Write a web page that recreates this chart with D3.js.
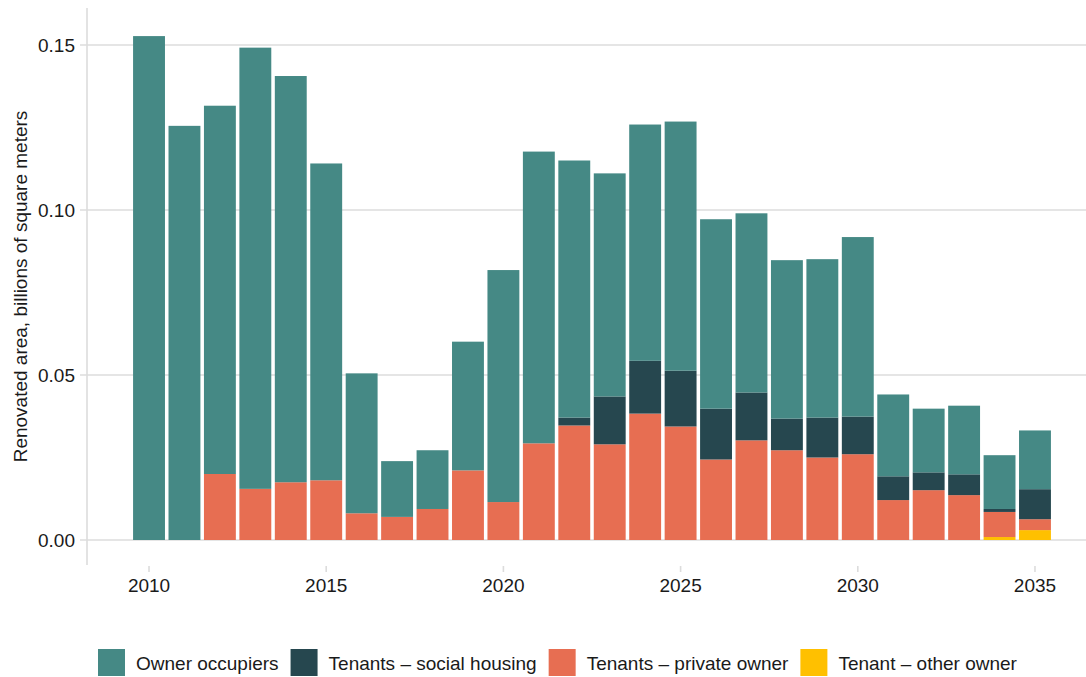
<!DOCTYPE html>
<html><head><meta charset="utf-8">
<script src="https://cdn.jsdelivr.net/npm/d3@7"></script>
<style>
body{margin:0;background:#fff}
svg{display:block}
text{font-family:"Liberation Sans",Arial,Helvetica,sans-serif;fill:#1a1a1a}
</style>
</head><body>
<svg id="chart" width="1086" height="677"></svg>
<script>
const years = [2010,2011,2012,2013,2014,2015,2016,2017,2018,2019,2020,2021,2022,2023,2024,2025,2026,2027,2028,2029,2030,2031,2032,2033,2034,2035];
const ownerOccupiers = [0.1527,0.1255,0.1116,0.1337,0.1231,0.0960,0.0424,0.0169,0.0178,0.0390,0.0703,0.0884,0.0779,0.0676,0.0716,0.0755,0.0574,0.0543,0.0480,0.0480,0.0544,0.0248,0.0193,0.0208,0.0163,0.0178];
const tenantsSocial = [0,0,0,0,0,0,0,0,0,0,0,0,0.0024,0.0145,0.0160,0.0169,0.0154,0.0145,0.0096,0.0121,0.0114,0.0072,0.0054,0.0063,0.0009,0.0091];
const tenantsPrivate = [0,0,0.0200,0.0155,0.0175,0.0181,0.0081,0.0070,0.0094,0.0211,0.0115,0.0293,0.0347,0.0290,0.0383,0.0344,0.0244,0.0302,0.0272,0.0250,0.0260,0.0121,0.0151,0.0136,0.0076,0.0033];
const tenantOther = [0,0,0,0,0,0,0,0,0,0,0,0,0,0,0,0,0,0,0,0,0,0,0,0,0.0009,0.0030];
const yTicks = [0,0.05,0.10,0.15];
const xTicks = [2010,2015,2020,2025,2030,2035];
const seriesKeys = ["owner","social","private","other"];
const seriesNames = ["Owner occupiers","Tenants – social housing","Tenants – private owner","Tenant – other owner"];
const seriesColors = ["#458985","#26474F","#E76E52","#FFC000"];
const yTitle = "Renovated area, billions of square meters";

const table = years.map((yr,i)=>({year:yr, owner:ownerOccupiers[i], social:tenantsSocial[i], private:tenantsPrivate[i], other:tenantOther[i]}));
const stackOrder = ["other","private","social","owner"];
const stacked = d3.stack().keys(stackOrder)(table);
const color = d3.scaleOrdinal().domain(seriesKeys).range(seriesColors);

const svg = d3.select("#chart");
const gridColor = "#DCDCDC";
const panelLeft = 87, panelRight = 1086, panelTop = 8, panelBottom = 565;

const x = d3.scaleBand().domain(years).range([131.3, 1052.7]).paddingInner(0.1).paddingOuter(0.05);
const y = d3.scaleLinear().domain([0,0.15]).range([540,45]);

// gridlines + y ticks
svg.append("g").selectAll("line").data(yTicks).join("line")
  .attr("x1", panelLeft-7).attr("x2", panelRight)
  .attr("y1", d=>y(d)).attr("y2", d=>y(d))
  .attr("stroke", gridColor).attr("stroke-width", 1.6);

// y axis line
svg.append("line").attr("x1",panelLeft).attr("x2",panelLeft).attr("y1",panelTop).attr("y2",panelBottom)
  .attr("stroke",gridColor).attr("stroke-width",1.6);

// y tick labels
svg.append("g").selectAll("text").data(yTicks).join("text")
  .attr("x", 75).attr("y", d=>y(d)).attr("dy","0.36em")
  .attr("text-anchor","end").attr("font-size",19)
  .text(d=>d3.format(".2f")(d));

// x ticks
svg.append("g").selectAll("line").data(xTicks).join("line")
  .attr("x1", d=>x(d)+x.bandwidth()/2).attr("x2", d=>x(d)+x.bandwidth()/2)
  .attr("y1", panelBottom+1).attr("y2", panelBottom+7)
  .attr("stroke", gridColor).attr("stroke-width", 1.6);
svg.append("g").selectAll("text").data(xTicks).join("text")
  .attr("x", d=>x(d)+x.bandwidth()/2).attr("y", 592)
  .attr("text-anchor","middle").attr("font-size",19)
  .text(d=>d);

// bars
svg.append("g").selectAll("g").data(stacked).join("g")
  .attr("fill", s=>color(s.key))
  .selectAll("rect").data(s=>s).join("rect")
  .attr("x", d=>x(d.data.year))
  .attr("width", x.bandwidth())
  .attr("y", d=>y(d[1]))
  .attr("height", d=>Math.max(0, y(d[0])-y(d[1])));

// y title
svg.append("text")
  .attr("transform", `translate(26.5,${(panelTop+panelBottom)/2}) rotate(-90)`)
  .attr("text-anchor","middle").attr("font-size",19)
  .text(yTitle);

// legend
const leg = svg.append("g");
let lx = 98;
seriesKeys.forEach((k,i)=>{
  leg.append("rect").attr("x",lx).attr("y",649).attr("width",27).attr("height",27).attr("fill",color(k));
  const t = leg.append("text").attr("x",lx+38).attr("y",670).attr("font-size",19).text(seriesNames[i]);
  lx = lx + 38 + t.node().getComputedTextLength() + 12;
});
</script>
</body></html>
